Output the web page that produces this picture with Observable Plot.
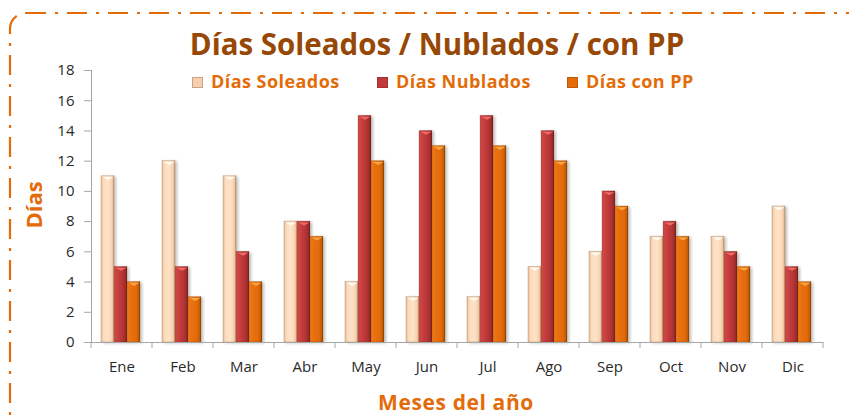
<!DOCTYPE html>
<html>
<head>
<meta charset="utf-8">
<script src="https://cdn.jsdelivr.net/npm/d3@7"></script>
<script src="https://cdn.jsdelivr.net/npm/@observablehq/plot@0.6"></script>
<style>
  html, body { margin: 0; padding: 0; background: #fff; }
  #wrap { position: relative; width: 849px; height: 418px; overflow: hidden; font-family: "Open Sans", sans-serif; }
  #wrap svg.plot { position: absolute; left: 0; top: 0; }
  .title { position: absolute; left: 0; width: 874px; top: 23px; text-align: center; font-weight: 700; font-size: 29.5px; color: #974806; white-space: nowrap; }
  .legend { position: absolute; top: 68px; left: 0; width: 849px; height: 26px; }
  .legend .item { position: absolute; top: 0; font-weight: 700; font-size: 18px; letter-spacing: 0.45px; color: #E36C09; white-space: nowrap; line-height: 26px; }
  .legend .sw { display: inline-block; width: 11px; height: 11px; margin-right: 8px; vertical-align: 0px; }
  .ytitle { position: absolute; left: 33px; top: 205px; transform: translate(-50%, -50%) rotate(-90deg); font-weight: 700; font-size: 22px; color: #E36C09; white-space: nowrap; }
  .xtitle { position: absolute; left: 456px; top: 389px; transform: translateX(-50%); font-weight: 700; font-size: 21px; letter-spacing: 0.6px; color: #E36C09; white-space: nowrap; line-height: 26px; }
</style>
</head>
<body>
<div id="wrap"></div>
<script>
const months = ["Ene","Feb","Mar","Abr","May","Jun","Jul","Ago","Sep","Oct","Nov","Dic"];
const seriesNames = ["Días Soleados","Días Nublados","Días con PP"];
const soleados = [11,12,11,8,4,3,3,5,6,7,7,9];
const nublados = [5,5,6,8,15,14,15,14,10,8,6,5];
const conPP = [4,3,4,7,12,13,13,12,9,7,5,4];
const yTicks = [0,2,4,6,8,10,12,14,16,18];
const swatchColors = ["#F6CFAE","#C0393B","#E36C09"];
const bevelColors = ["#FFFBF2","#EE6B6B","#F9A642"];
const fills = ["url(#gSol)","url(#gNub)","url(#gPP)"];

const seriesValues = [soleados, nublados, conPP];
const data = months.flatMap((m, i) => seriesNames.map((s, j) => ({month: m, series: s, value: seriesValues[j][i]})));

// flat downward "bevel" triangle symbol for the bar tops
const bevel = {
  draw(ctx, size) {
    const s = Math.sqrt(size / Math.PI);
    ctx.moveTo(-s, 0); ctx.lineTo(s, 0); ctx.lineTo(0, s * 0.55); ctx.closePath();
  }
};

const chart = Plot.plot({
  width: 849,
  height: 418,
  marginLeft: 88,
  marginRight: 24,
  marginTop: 70,
  marginBottom: 76,
  style: {fontFamily: "'Open Sans', sans-serif", fontSize: "14px", color: "#2a2a2a", background: "transparent"},
  fx: {domain: months, padding: 0, label: null, axis: null},
  x: {domain: seriesNames, paddingInner: 0, paddingOuter: 0.77, align: 0.47, axis: null},
  y: {domain: [0, 18], label: null},
  color: {domain: seriesNames, range: fills},
  marks: [
    Plot.frame({anchor: "left", facetAnchor: "left", stroke: "#a6a6a6"}),
    Plot.axisY({ticks: yTicks, tickSize: 7, tickPadding: 10, fontSize: 15, stroke: "#a6a6a6", label: null}),
    Plot.axisFx({anchor: "bottom", tickSize: 0, tickPadding: 19, fontSize: 15, label: null}),
    Plot.barY(data, {fx: "month", x: "series", y: "value", fill: "series", stroke: "rgba(90,40,10,0.35)", strokeWidth: 0.6}),
    ...seriesNames.map((s, j) => Plot.dot(data.filter(d => d.series === s), {
      fx: "month", x: "series", y: "value", symbol: bevel, r: 5.5, dy: 0.8, fill: bevelColors[j], stroke: "none"
    })),
    Plot.ruleY([0], {stroke: "#a6a6a6"})
  ]
});
chart.classList.add("plot");

const svg = d3.select(chart);
const defs = svg.insert("defs", ":first-child");
function grad(id, stops) {
  const g = defs.append("linearGradient").attr("id", id).attr("x1", 0).attr("x2", 1).attr("y1", 0).attr("y2", 0);
  stops.forEach(([o, c]) => g.append("stop").attr("offset", o).attr("stop-color", c));
}
grad("gSol", [[0, "#E9BE98"], [0.2, "#FBDCBF"], [0.55, "#FFE2C6"], [0.85, "#F6D0AE"], [1, "#C9A07E"]]);
grad("gNub", [[0, "#D04A4A"], [0.25, "#C94141"], [0.6, "#B93636"], [0.9, "#9C2A2A"], [1, "#6E1C1C"]]);
grad("gPP", [[0, "#EE7A1A"], [0.3, "#E8700E"], [0.7, "#E26A08"], [0.92, "#C05A05"], [1, "#7E3A02"]]);
const f = defs.append("filter").attr("id", "shadow").attr("x", "-30%").attr("y", "-10%").attr("width", "160%").attr("height", "130%");
f.append("feDropShadow").attr("dx", 2).attr("dy", 1).attr("stdDeviation", 1.5).attr("flood-color", "#000").attr("flood-opacity", 0.25);
svg.selectAll("g[aria-label='bar'] rect").attr("filter", "url(#shadow)");

// category boundary tick marks on the x axis, from the fx scale
const fx = chart.scale("fx");
const y = chart.scale("y");
const y0 = y.apply(0);
const bounds = months.map(m => fx.apply(m)).concat([fx.apply(months[months.length - 1]) + fx.bandwidth]);
const tg = svg.append("g").attr("stroke", "#a6a6a6");
bounds.forEach(b => tg.append("line").attr("x1", b).attr("x2", b).attr("y1", y0).attr("y2", y0 + 6));

// chart area border (dash-dot)
svg.append("rect").attr("x", 10).attr("y", 13).attr("width", 870).attr("height", 430).attr("rx", 16)
  .attr("fill", "none").attr("stroke", "#E36C09").attr("stroke-width", 2.2).attr("stroke-dasharray", "20 9 3 9");

const wrap = document.getElementById("wrap");
wrap.appendChild(chart);

const title = document.createElement("div");
title.className = "title";
title.textContent = "Días Soleados / Nublados / con PP";
wrap.appendChild(title);

const legend = document.createElement("div");
legend.className = "legend";
const legendX = [192, 377, 567];
seriesNames.forEach((s, i) => {
  const it = document.createElement("div");
  it.className = "item";
  it.style.left = legendX[i] + "px";
  const sw = document.createElement("span");
  sw.className = "sw";
  sw.style.background = swatchColors[i];
  sw.style.boxShadow = "inset 0 0 0 1px rgba(80,30,0,0.25)";
  it.appendChild(sw);
  it.appendChild(document.createTextNode(s));
  legend.appendChild(it);
});
wrap.appendChild(legend);

const yt = document.createElement("div");
yt.className = "ytitle";
yt.textContent = "Días";
wrap.appendChild(yt);

const xt = document.createElement("div");
xt.className = "xtitle";
xt.textContent = "Meses del año";
wrap.appendChild(xt);
</script>
</body>
</html>
